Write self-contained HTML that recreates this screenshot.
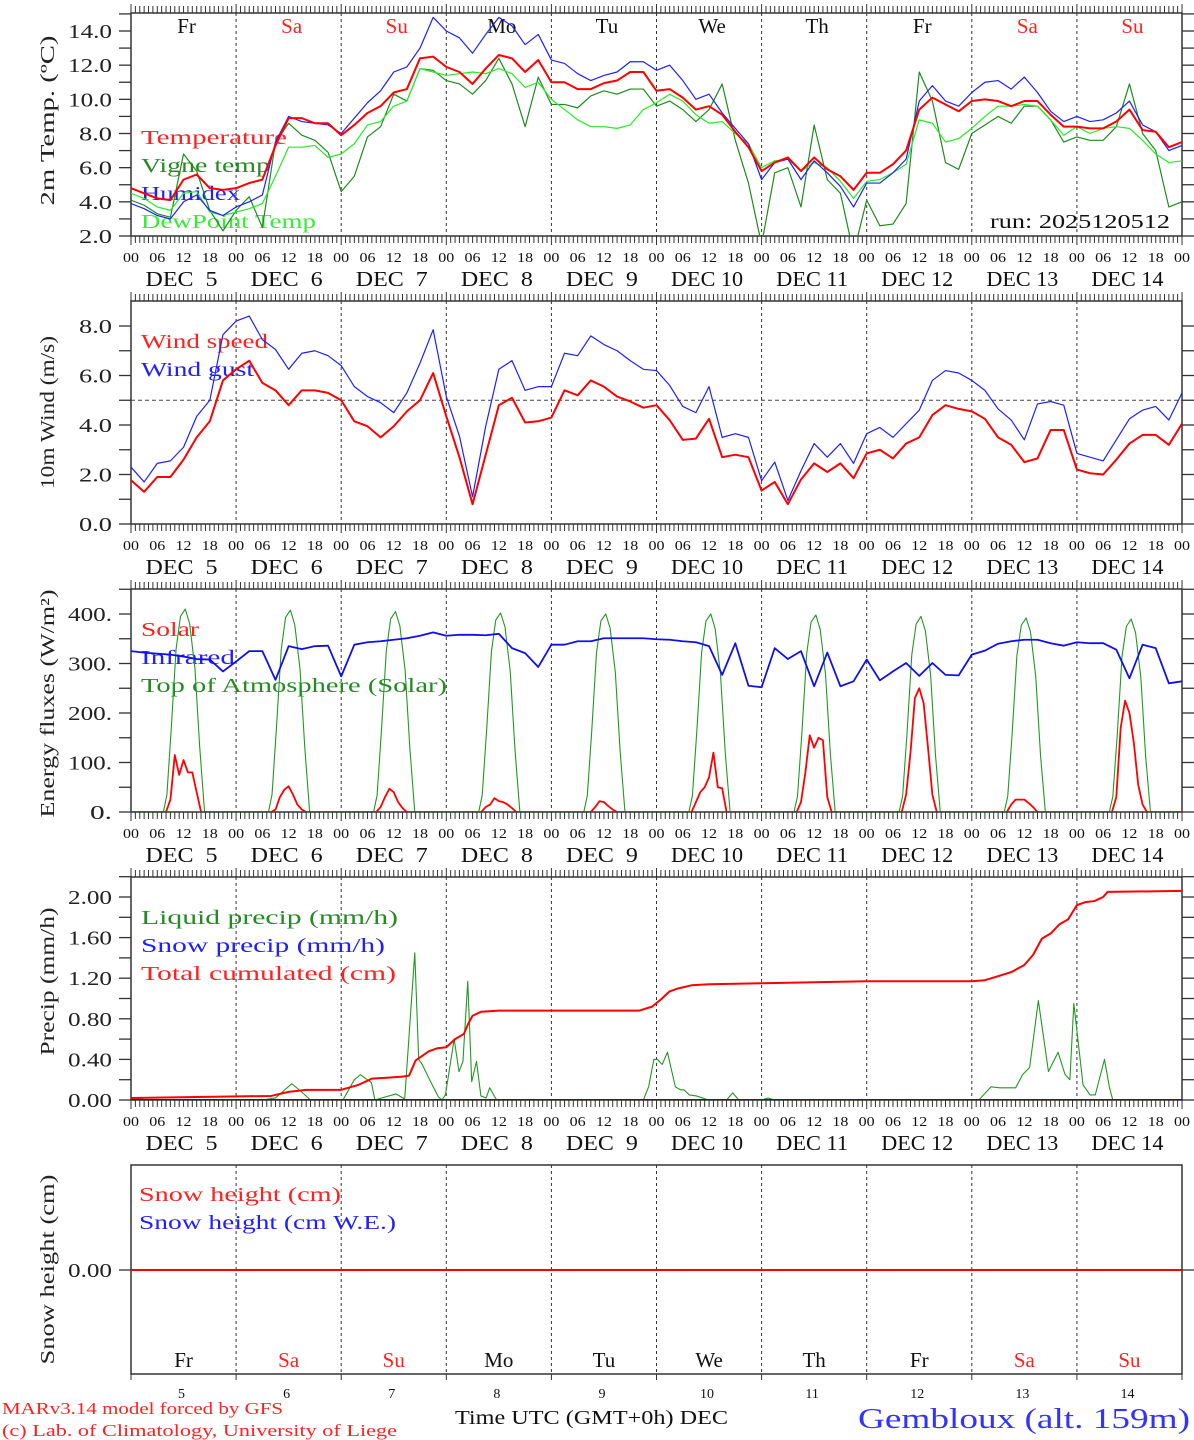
<!DOCTYPE html>
<html><head><meta charset="utf-8"><title>MAR forecast Gembloux</title>
<style>
html,body{margin:0;padding:0;background:#fff;}
svg{display:block;font-family:"Liberation Serif","DejaVu Serif",serif;}
text{white-space:pre;}
</style></head>
<body>
<svg id="chart" xmlns="http://www.w3.org/2000/svg" width="1194" height="1440" viewBox="0 0 1194 1440">
<rect x="0" y="0" width="1194" height="1440" fill="#fff"/>
</svg>
<script>
// ---------- data ----------
const dayNames = ["Fr","Sa","Su","Mo","Tu","We","Th","Fr","Sa","Su"];
const dayNumbers = ["5","6","7","8","9","10","11","12","13","14"];
const hourLabels = ["00","06","12","18"];
const tempTicks = ["2.0","4.0","6.0","8.0","10.0","12.0","14.0"];
const windTicks = ["0.0","2.0","4.0","6.0","8.0"];
const energyTicks = ["0.","100.","200.","300.","400."];
const precipTicks = ["0.00","0.40","0.80","1.20","1.60","2.00"];

// 3-hourly series, Dec 5 00h .. Dec 15 00h (81 values)
const temperature = [4.8,4.5,4.2,4.1,5.3,5.6,4.8,4.7, 4.8,5.1,5.3,7.3,8.9,8.9,8.6,8.6, 7.9,8.5,9.2,9.6,10.4,10.6,12.4,12.5, 11.9,11.6,10.9,11.8,12.6,12.4,11.6,12.3, 11.0,11.0,10.6,10.6,10.95,11.1,11.6,11.6, 10.5,10.6,10.1,9.4,9.6,9.1,8.1,7.2, 5.8,6.3,6.6,5.8,6.6,5.9,5.5,4.7, 5.7,5.7,6.2,7.0,9.4,10.1,9.7,9.3, 9.9,10.0,9.9,9.6,9.9,9.9,9.1,8.4, 8.4,8.3,8.3,8.7,9.4,8.2,8.1,7.2, 7.5];
const vigneTemp = [4.1,3.8,3.3,3.1,6.8,5.8,3.5,2.3, 3.5,4.3,2.5,7.5,8.6,7.9,7.6,6.9, 4.6,5.5,7.8,8.4,10.3,9.9,11.8,11.7, 11.1,10.9,10.3,11.1,12.4,10.9,8.4,11.3, 9.7,9.7,9.5,10.2,10.5,10.3,10.6,10.6, 9.6,9.9,9.4,8.7,9.4,10.9,7.6,5.1, 1.5,5.7,6.0,3.7,8.5,5.3,4.5,1.0, 4.1,2.6,2.7,3.9,11.6,9.9,6.3,5.9, 8.0,8.5,9.0,8.6,9.6,9.6,8.8,7.5, 7.8,7.6,7.6,8.4,10.9,8.0,7.0,3.7, 4.0];
const humidex = [3.9,3.6,3.2,3.0,4.0,4.4,3.5,3.2, 3.7,4.0,4.4,7.5,9.0,8.7,8.6,8.5, 8.0,8.9,9.8,10.5,11.6,11.9,13.0,14.8, 14.0,13.6,12.7,13.8,14.8,14.3,13.2,13.8, 12.3,12.1,11.5,11.1,11.4,11.6,12.2,12.2, 11.7,12.0,11.1,10.0,10.3,9.2,8.3,7.4, 5.3,6.3,6.5,5.3,6.4,5.7,4.9,3.7, 5.1,5.1,5.7,6.5,9.9,10.8,9.9,9.6, 10.4,11.0,11.1,10.6,11.3,10.4,9.3,8.7, 9.0,8.7,8.8,9.2,9.9,8.5,8.1,7.0, 7.3];
const dewPoint = [4.5,4.2,3.7,3.5,4.5,4.6,3.4,3.2, 3.4,3.6,3.9,5.5,7.2,7.2,7.3,6.6, 6.8,7.4,8.5,8.7,9.6,9.9,11.8,11.6, 11.4,11.5,11.6,11.5,11.8,11.5,10.7,11.0, 10.0,9.4,8.8,8.4,8.4,8.3,8.5,9.4, 9.8,10.3,9.9,9.1,8.6,8.7,8.0,7.4, 6.0,6.4,6.5,5.8,6.3,6.0,5.2,4.2, 5.2,5.3,5.7,6.2,8.8,8.6,7.5,7.7, 8.3,9.0,9.6,9.6,9.7,9.6,8.8,7.9, 8.4,8.0,8.3,8.4,8.3,7.6,6.8,6.3, 6.4];
const windSpeed = [1.77,1.3,1.9,1.9,2.6,3.5,4.15,5.8, 6.25,6.6,5.7,5.4,4.8,5.4,5.4,5.3, 5.0,4.15,3.95,3.5,3.95,4.55,5.0,6.1, 4.35,2.7,0.8,2.8,4.8,5.1,4.1,4.15, 4.3,5.4,5.2,5.8,5.55,5.15,4.95,4.7, 4.8,4.2,3.4,3.45,4.25,2.7,2.8,2.7, 1.35,1.7,0.8,1.8,2.45,2.1,2.45,1.85, 2.85,3.0,2.65,3.25,3.5,4.4,4.8,4.65, 4.55,4.25,3.5,3.2,2.5,2.65,3.8,3.8, 2.2,2.05,2.0,2.6,3.25,3.6,3.6,3.2, 4.05];
const windGust = [2.3,1.7,2.45,2.55,3.1,4.35,5.0,7.65, 8.2,8.4,7.45,7.05,6.25,6.9,7.0,6.8, 6.4,5.55,5.15,4.9,4.5,5.3,6.5,7.85, 5.15,3.55,1.1,3.95,6.25,6.6,5.4,5.55, 5.55,6.9,6.8,7.6,7.25,7.0,6.6,6.25, 6.2,5.6,4.75,4.5,5.55,3.5,3.65,3.5, 1.75,2.5,0.95,2.15,3.25,2.7,3.25,2.45, 3.65,3.9,3.5,4.05,4.6,5.8,6.2,6.1, 5.8,5.4,4.65,4.2,3.4,4.85,4.95,4.8, 2.85,2.7,2.55,3.4,4.25,4.6,4.75,4.2, 5.3];
const infrared = [325,322,320,318,314,309,308,284, 304,325,325,267,335,329,335,336, 274,338,343,345,348,351,356,363, 356,358,358,357,360,331,321,293, 338,338,345,345,351,351,351,351, 349,348,345,343,335,277,341,255, 252,331,309,325,254,322,254,264, 308,266,284,301,275,301,277,276, 318,326,340,345,348,348,341,336, 343,341,341,328,270,338,331,260, 264];

// daytime radiation, per day
const toaHourOfDay = [7.4,8.2,9.2,10.3,11.3,12.4,13.4,14.6,15.7,16.8];
const toaValues = [
 0,35,170,330,395,410,380,290,130,0,
 0,35,168,328,393,408,378,288,128,0,
 0,34,166,326,390,405,376,286,126,0,
 0,34,164,324,388,402,374,284,124,0,
 0,33,162,322,386,400,372,282,122,0,
 0,33,162,322,386,400,370,280,120,0,
 0,32,160,320,384,398,368,278,118,0,
 0,32,158,318,380,395,366,276,116,0,
 0,31,156,316,377,392,364,274,114,0,
 0,31,154,314,375,390,362,272,112,0];
const solarHourOfDay = [8,9,10,11,12,13,14,15,16];
const solarValues = [
 0,25,115,75,105,80,80,40,0,
 0,5,30,45,52,35,15,5,0,
 0,10,30,47,40,20,8,0,0,
 0,10,15,28,22,20,15,8,0,
 0,0,10,22,20,12,5,0,0,
 0,20,40,50,70,120,50,48,0,
 0,20,80,155,130,150,145,30,0,
 0,35,120,230,250,220,130,35,0,
 0,15,25,25,25,18,10,0,0,
 0,30,170,225,200,140,55,15,0];

// precipitation (irregular hours since Dec 5 00h)
const liqHours = [0,2,4,30,33,36.7,38.7,41,48.4,51,52.4,54.9,55.7,60.5,62.5,64.8,65.7,66.5,68.2,70.2,71,71.8,73.8,74.9,75.8,76.9,77.8,78.9,79.9,81.1,81.9,83.5,117,118.2,119.4,120.2,121.3,122.5,124.3,125.5,126.3,127.5,129.1,131.9,136,137.4,138.8,144,145.5,147,193.6,196.4,198.4,202,203.6,205.2,207.2,209.5,211.7,213.3,214.4,215.3,217.4,219,220.2,222.3,223.4,224.2,240];
const liqValues = [0.02,0.01,0,0,0.02,0.16,0.09,0,0,0.2,0.25,0.17,0,0.06,0.01,1.45,0.4,0.35,0.2,0.03,0,0.05,0.6,0.28,0.38,1.17,0.18,0.38,0.04,0.02,0.12,0,0,0.13,0.4,0.4,0.35,0.47,0.13,0.1,0.1,0.05,0.04,0,0,0.07,0,0,0.02,0,0,0.13,0.12,0.12,0.25,0.32,0.98,0.28,0.47,0.25,0.2,0.95,0.15,0.05,0.05,0.4,0.13,0,0];
const snowPrecipHours = [0,240];
const snowPrecipValues = [0,0];
const cumHours = [0,32,36,40,48,52,55,62,63.5,65,68,70,72,74,76,77,78,80,84,116,119,121,123,125,128,132,144,168,192,195,198,201,204,206,208,210,212,214,216,218,220,222,223,240];
const cumValues = [0.02,0.04,0.08,0.1,0.1,0.15,0.21,0.23,0.24,0.39,0.48,0.51,0.52,0.6,0.65,0.75,0.83,0.87,0.88,0.88,0.92,0.99,1.07,1.1,1.13,1.14,1.15,1.17,1.17,1.18,1.22,1.26,1.33,1.43,1.59,1.64,1.73,1.78,1.92,1.95,1.96,2.0,2.05,2.06];
const snowHeightHours = [0,240];
const snowHeightCm = [0,0];
const snowHeightWE = [0,0];

// ---------- drawing ----------
const NS = "http://www.w3.org/2000/svg";
const svg = document.getElementById("chart");
const X0 = 131, X1 = 1182;
function xs(h){ return X0 + h * (X1 - X0) / 240; }
function mk(tag, attrs, parent){
  const e = document.createElementNS(NS, tag);
  for (const k in attrs) e.setAttribute(k, attrs[k]);
  (parent || svg).appendChild(e);
  return e;
}
function lin(v0, p0, v1, p1){ return v => p0 + (v - v0) * (p1 - p0) / (v1 - v0); }

const panels = [
  {id:"temp", top:13, bottom:236, y: lin(2,236,14,31), tickMin:2, tickMax:15, tickStep:1, labelVals:[2,4,6,8,10,12,14], labels:tempTicks, title:"2m Temp. (ºC)", titleLen:170},
  {id:"wind", top:301, bottom:524, y: lin(0,524,8,326), tickMin:0, tickMax:8, tickStep:1, labelVals:[0,2,4,6,8], labels:windTicks, title:"10m Wind (m/s)", titleLen:153},
  {id:"energy", top:589, bottom:812, y: lin(0,812,400,614), tickMin:0, tickMax:450, tickStep:50, labelVals:[0,100,200,300,400], labels:energyTicks, title:"Energy fluxes (W/m²)", titleLen:228},
  {id:"precip", top:877, bottom:1100, y: lin(0,1100,2,897), tickMin:0, tickMax:2.2, tickStep:0.2, labelVals:[0,0.4,0.8,1.2,1.6,2.0], labels:precipTicks, title:"Precip (mm/h)", titleLen:148},
  {id:"snow", top:1165, bottom:1374, y: v => 1270 - v*100, tickMin:0, tickMax:0, tickStep:1, labelVals:[0], labels:["0.00"], title:"Snow height (cm)", titleLen:190}
];

function drawLine(p, hours, vals, color, width, name){
  let d = "";
  for (let i = 0; i < vals.length; i++){
    d += (i ? "L" : "M") + xs(hours[i]).toFixed(2) + "," + p.y(vals[i]).toFixed(2);
  }
  const e = mk("path", {d:d, fill:"none", stroke:color, "stroke-width":width, "stroke-linejoin":"round", "clip-path":"url(#clip-" + p.id + ")"}, p.g);
  
  
  return e;
}
function txt(s, x, y, size, color, anchor, parent, name, len){
  const e = mk("text", {x:x, y:y, "font-size":size, fill:color, "text-anchor":anchor || "start"}, parent);
  if (len) { e.setAttribute("textLength", len); e.setAttribute("lengthAdjust", "spacingAndGlyphs"); }
  e.textContent = s;
  
  
  return e;
}

const hours3 = [];
for (let i = 0; i <= 80; i++) hours3.push(i * 3);

const defs = mk("defs", {});
panels.forEach(p => {
  const cp = mk("clipPath", {id:"clip-" + p.id}, defs);
  mk("rect", {x:X0, y:p.top, width:X1 - X0, height:p.bottom - p.top}, cp);
  const g = mk("g", {});
  
  
  p.g = g;
  for (let d = 1; d < 10; d++){
    const l = mk("line", {x1:xs(d*24), x2:xs(d*24), y1:p.top, y2:p.bottom, stroke:"#333", "stroke-width":1, "stroke-dasharray":"3,3"}, g);
    
    
  }
  const fr = mk("rect", {x:X0, y:p.top, width:X1 - X0, height:p.bottom - p.top, fill:"none", stroke:"#333", "stroke-width":1.5}, g);
  
  
  const nT = Math.round((p.tickMax - p.tickMin) / p.tickStep);
  for (let i = 0; i <= nT; i++){
    const v = p.tickMin + i * p.tickStep;
    const yy = p.y(v);
    mk("line", {x1:119, x2:X0, y1:yy, y2:yy, stroke:"#333", "stroke-width":1.3}, g);
    mk("line", {x1:X1, x2:1194, y1:yy, y2:yy, stroke:"#333", "stroke-width":1.3}, g);
  }
  p.labelVals.forEach((v, i) => {
    txt(p.labels[i], 112, p.y(v) + 7, 20, "#222", "end", g, p.id + '-y-tick-label', p.labels[i].length * 11);
  });
  const cy = (p.top + p.bottom) / 2 + (p.id === "temp" ? -4 : 0) + (p.id === "energy" ? 3 : 0) + (p.id === "precip" ? -7 : 0);
  const t = txt(p.title, 0, 0, 20, "#222", "middle", g, p.id + '-y-axis-title', p.titleLen);
  t.setAttribute("transform", "translate(54," + cy + ") rotate(-90)");
  if (p.id !== "snow"){
    for (let h = 0; h <= 240; h++){
      const len = (h % 24 === 0) ? 9 : 7;
      mk("line", {x1:xs(h), x2:xs(h), y1:p.bottom, y2:p.bottom + len, stroke:"#333", "stroke-width":1}, g);
      mk("line", {x1:xs(h), x2:xs(h), y1:p.top - len, y2:p.top, stroke:"#333", "stroke-width":1}, g);
    }
    for (let h = 0; h <= 240; h += 6){
      txt(hourLabels[(h / 6) % 4], xs(h), p.bottom + 26, 14, "#111", "middle", g, 'hour-label', 16);
    }
    for (let d = 0; d < 10; d++){
      const s = dayNumbers[d].length === 1 ? "DEC  " + dayNumbers[d] : "DEC " + dayNumbers[d];
      txt(s, xs(d*24 + 12) - 2, p.bottom + 50, 21, "#111", "middle", g, 'date-label', 72);
    }
  } else {
    for (let d = 0; d <= 10; d++){
      mk("line", {x1:xs(d*24), x2:xs(d*24), y1:p.bottom, y2:p.bottom + 6, stroke:"#333", "stroke-width":1}, g);
    }
    for (let d = 0; d < 10; d++){
      txt(dayNumbers[d], xs(d*24 + 12) - 2, p.bottom + 24, 14, "#111", "middle", g, 'date-number');
      const c = (dayNames[d] === "Sa" || dayNames[d] === "Su") ? "#ff2020" : "#111";
      txt(dayNames[d], xs(d*24 + 12), 1367, 21, c, "middle", g, 'weekday-label');
    }
  }
});

// ----- Panel 1: temperature -----
const P1 = panels[0];
for (let d = 0; d < 10; d++){
  const c = (dayNames[d] === "Sa" || dayNames[d] === "Su") ? "#ff2020" : "#111";
  txt(dayNames[d], xs(d*24 + 12) + 3, 33, 21, c, "middle", P1.g, 'weekday-label');
}
txt("Temperature", 141, 144, 20, "#ff2020", "start", P1.g, 'legend-temperature', 146);
txt("Vigne temp", 141, 172, 20, "#228b22", "start", P1.g, 'legend-vigne-temp', 129);
txt("Humidex", 141, 200, 20, "#2020ff", "start", P1.g, 'legend-humidex', 99);
txt("DewPoint Temp", 141, 228, 20, "#33ee33", "start", P1.g, 'legend-dewpoint', 175);
txt("run: 2025120512", 990, 228, 20, "#111", "start", P1.g, 'run-label', 180);
drawLine(P1, hours3, vigneTemp, "#1e8c1e", 1.2, 'vigne-temp-line');
drawLine(P1, hours3, dewPoint, "#22ee22", 1.2, 'dewpoint-line');
drawLine(P1, hours3, humidex, "#2020ff", 1.2, 'humidex-line');
drawLine(P1, hours3, temperature, "#ff0000", 2, 'temperature-line');

// ----- Panel 2: wind -----
const P2 = panels[1];
const dl = mk("line", {x1:X0, x2:X1, y1:P2.y(5), y2:P2.y(5), stroke:"#444", "stroke-width":1, "stroke-dasharray":"4,3"}, P2.g);


txt("Wind speed", 141, 348, 20, "#ff2020", "start", P2.g, 'legend-wind-speed', 127);
txt("Wind gust", 141, 376, 20, "#2020ff", "start", P2.g, 'legend-wind-gust', 113);
drawLine(P2, hours3, windGust, "#2020ff", 1.2, 'wind-gust-line');
drawLine(P2, hours3, windSpeed, "#ff0000", 2, 'wind-speed-line');

// ----- Panel 3: energy -----
const P3 = panels[2];
txt("Solar", 141, 636, 20, "#ff2020", "start", P3.g, 'legend-solar', 58);
txt("Infrared", 141, 664, 20, "#2020ff", "start", P3.g, 'legend-infrared', 94);
txt("Top of Atmosphere (Solar)", 141, 692, 20, "#228b22", "start", P3.g, 'legend-toa', 306);
const toaH = [0], toaV = [0];
const solH = [0], solV = [0];
for (let d = 0; d < 10; d++){
  for (let k = 0; k < toaHourOfDay.length; k++){ toaH.push(d*24 + toaHourOfDay[k]); toaV.push(toaValues[d*toaHourOfDay.length + k]); }
  for (let k = 0; k < solarHourOfDay.length; k++){ solH.push(d*24 + solarHourOfDay[k]); solV.push(solarValues[d*solarHourOfDay.length + k]); }
}
toaH.push(240); toaV.push(0);
solH.push(240); solV.push(0);
drawLine(P3, toaH, toaV, "#229922", 1.1, 'toa-solar-line');
drawLine(P3, solH, solV, "#ff0000", 1.8, 'solar-line');
drawLine(P3, hours3, infrared, "#1010ee", 1.8, 'infrared-line');

// ----- Panel 4: precip -----
const P4 = panels[3];
txt("Liquid precip (mm/h)", 141, 924, 20, "#228b22", "start", P4.g, 'legend-liquid-precip', 257);
txt("Snow precip (mm/h)", 141, 952, 20, "#2020ff", "start", P4.g, 'legend-snow-precip', 244);
txt("Total cumulated (cm)", 141, 980, 20, "#ff2020", "start", P4.g, 'legend-total-cumulated', 255);
drawLine(P4, liqHours, liqValues, "#229922", 1.1, 'liquid-precip-line');
drawLine(P4, cumHours, cumValues, "#ff0000", 2, 'cumulated-precip-line');
drawLine(P4, snowPrecipHours, snowPrecipValues, "#1010ee", 2, 'snow-precip-line');

// ----- Panel 5: snow height -----
const P5 = panels[4];
txt("Snow height (cm)", 139, 1201, 20, "#ff2020", "start", P5.g, 'legend-snow-height', 202);
txt("Snow height (cm W.E.)", 139, 1229, 20, "#2020ff", "start", P5.g, 'legend-snow-height-we', 257);
drawLine(P5, snowHeightHours, snowHeightWE, "#2020ff", 2, 'snow-height-we-line');
drawLine(P5, snowHeightHours, snowHeightCm, "#ff0000", 2, 'snow-height-line');

// ----- footer -----
txt("MARv3.14 model forced by GFS", 2, 1414, 17, "#ff2020", "start", svg, 'model-credit', 281);
txt("(c) Lab. of Climatology, University of Liege", 2, 1436, 17, "#ff2020", "start", svg, 'lab-credit', 395);
txt("Time UTC (GMT+0h) DEC", 455, 1424, 20, "#111", "start", svg, 'x-axis-title', 273);
txt("Gembloux (alt. 159m)", 858, 1428, 28, "#3333ff", "start", svg, 'station-title', 332);
</script>
</body></html>
